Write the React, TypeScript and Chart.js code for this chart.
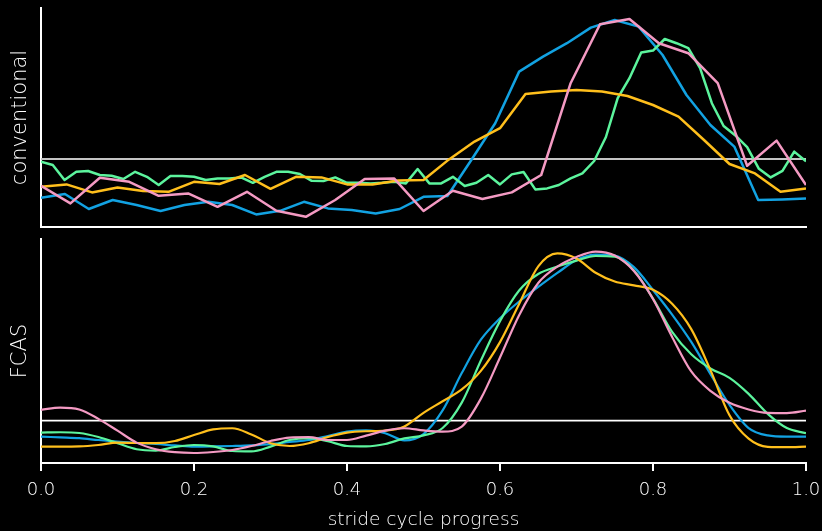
import React, { useEffect, useRef } from "react";
import { Chart, registerables } from "chart.js";

Chart.register(...registerables);

// ---------- data ----------
const seriesLabels = ["subject A", "subject B", "subject C", "subject D"];
const seriesColors = ["#12a2e2", "#5cf49d", "#ffbf1c", "#f49ac3"];

// conventional (raw samples, each series has its own sample count across the stride)
const convBlue = [-1.94, -1.75, -2.5, -2.05, -2.3, -2.6, -2.3, -2.14, -2.3, -2.77, -2.59, -2.14, -2.47, -2.55, -2.72, -2.5, -1.89, -1.85, -0.05, 1.79, 4.37, 5.12, 5.79, 6.57, 6.95, 6.62, 5.2, 3.2, 1.7, 0.62, -2.05, -2.02, -1.97];
const convGreen = [-0.14, -0.3, -1.05, -0.64, -0.6, -0.8, -0.84, -1.0, -0.64, -0.89, -1.3, -0.85, -0.85, -0.89, -1.05, -0.97, -0.97, -0.92, -1.19, -0.89, -0.64, -0.64, -0.75, -1.09, -1.1, -0.92, -1.19, -1.19, -1.22, -1.19, -1.14, -1.22, -0.5, -1.22, -1.22, -0.89, -1.35, -1.19, -0.8, -1.27, -0.77, -0.65, -1.52, -1.47, -1.3, -0.97, -0.72, -0.1, 1.1, 3.04, 4.04, 5.32, 5.42, 6.0, 5.79, 5.54, 4.54, 2.79, 1.65, 1.18, 0.59, -0.49, -0.92, -0.59, 0.37, -0.12];
const convYellow = [-1.39, -1.27, -1.67, -1.42, -1.6, -1.64, -1.14, -1.25, -0.8, -1.49, -0.89, -0.92, -1.27, -1.27, -1.07, -1.05, -0.02, 0.87, 1.54, 3.25, 3.37, 3.45, 3.37, 3.15, 2.7, 2.12, 0.95, -0.25, -0.72, -1.64, -1.47];
const convPink = [-1.34, -2.22, -0.94, -1.14, -1.84, -1.72, -2.39, -1.64, -2.59, -2.89, -2.05, -1.0, -0.97, -2.6, -1.59, -2.0, -1.67, -0.8, 3.79, 6.74, 7.0, 5.79, 5.29, 3.79, -0.34, 0.92, -1.3];

// FCAS (smoothed, sampled every 0.025 of the stride)
const fcasBlue = [-0.8, -0.84, -0.88, -0.97, -1.05, -1.12, -1.17, -1.24, -1.3, -1.29, -1.27, -1.24, -1.18, -1.07, -0.97, -0.77, -0.55, -0.49, -0.63, -0.99, -0.67, 0.51, 2.38, 4.05, 5.12, 5.96, 6.69, 7.39, 8.04, 8.31, 8.26, 7.68, 6.54, 5.31, 3.94, 2.34, 0.79, -0.37, -0.74, -0.8, -0.8];
const fcasGreen = [-0.6, -0.58, -0.62, -0.82, -1.13, -1.43, -1.5, -1.32, -1.22, -1.29, -1.52, -1.54, -1.3, -0.97, -0.88, -1.03, -1.27, -1.29, -1.17, -0.89, -0.74, -0.37, 0.9, 3.01, 4.98, 6.51, 7.34, 7.71, 8.01, 8.24, 8.21, 7.52, 6.11, 4.44, 3.32, 2.61, 2.14, 1.34, 0.34, -0.37, -0.63];
const fcasYellow = [-1.3, -1.3, -1.29, -1.22, -1.1, -1.12, -1.13, -1.02, -0.72, -0.44, -0.38, -0.69, -1.13, -1.27, -1.13, -0.82, -0.6, -0.53, -0.5, -0.29, 0.39, 0.97, 1.56, 2.49, 3.93, 5.84, 7.72, 8.37, 8.11, 7.4, 6.96, 6.77, 6.55, 5.85, 4.58, 2.54, 0.27, -0.9, -1.31, -1.33, -1.3];
const fcasPink = [0.54, 0.65, 0.56, 0.09, -0.5, -1.1, -1.43, -1.58, -1.62, -1.57, -1.47, -1.27, -1.02, -0.85, -0.83, -0.97, -0.97, -0.75, -0.5, -0.38, -0.49, -0.55, -0.3, 1.1, 3.16, 5.28, 6.89, 7.71, 8.19, 8.46, 8.26, 7.49, 6.09, 4.19, 2.46, 1.49, 0.89, 0.56, 0.39, 0.38, 0.5];

const baselineValue = 0;
const xTickStep = 0.2;
const panelLabels = ["conventional", "FCAS"];
const xTitle = "stride cycle progress";

// ---------- helpers ----------
const FONT = "'DejaVu Sans', sans-serif";
const TEXT = "#ffffff";
const WEIGHT = 200;

function toPoints(vals: number[]) {
  const n = vals.length - 1;
  return vals.map((v, i) => ({ x: i / n, y: v }));
}

function makeDatasets(series: number[][], width: number, smooth: boolean, baseColor: string, baseWidth: number) {
  const drawOrder = [4, 3, 2, 1];
  const ds: any[] = series.map((vals, i) => ({
    label: seriesLabels[i],
    data: toPoints(vals),
    borderColor: seriesColors[i],
    backgroundColor: seriesColors[i],
    borderWidth: width,
    pointRadius: 0,
    fill: false,
    tension: 0,
    cubicInterpolationMode: smooth ? "monotone" : "default",
    borderJoinStyle: "round",
    order: drawOrder[i],
  }));
  ds.push({
    label: "baseline",
    data: [
      { x: 0, y: baselineValue },
      { x: 1, y: baselineValue },
    ],
    borderColor: baseColor,
    borderWidth: baseWidth,
    pointRadius: 0,
    fill: false,
    order: 10,
  });
  return ds;
}

export default function App() {
  const topRef = useRef<HTMLCanvasElement | null>(null);
  const botRef = useRef<HTMLCanvasElement | null>(null);

  useEffect(() => {
    document.body.style.margin = "0";
    document.body.style.background = "#000";

    const top = new Chart(topRef.current as HTMLCanvasElement, {
      type: "line",
      data: {
        datasets: makeDatasets([convBlue, convGreen, convYellow, convPink], 2.5, false, "#c4c4c4", 1.8),
      },
      options: {
        animation: false,
        responsive: false,
        maintainAspectRatio: false,
        layout: { padding: { top: 8, right: 16, bottom: 0, left: 0 } },
        plugins: { legend: { display: false }, tooltip: { enabled: false } },
        scales: {
          x: {
            type: "linear",
            min: 0,
            max: 1,
            ticks: { display: false },
            grid: { display: false },
            border: { display: true, color: "#ffffff", width: 2 },
            afterFit: (s: any) => {
              s.height = 4;
              s.paddingLeft = 0;
              s.paddingRight = 0;
            },
          },
          y: {
            min: -3.4,
            max: 7.55,
            ticks: { display: false },
            grid: { display: false },
            border: { display: true, color: "#ffffff", width: 2 },
            title: {
              display: true,
              text: panelLabels[0],
              color: TEXT,
              font: { family: FONT, size: 21, weight: WEIGHT },
              padding: { top: 8, bottom: 0 },
            },
            afterFit: (s: any) => {
              s.width = 41;
            },
          },
        },
      } as any,
    });

    const bot = new Chart(botRef.current as HTMLCanvasElement, {
      type: "line",
      data: {
        datasets: makeDatasets([fcasBlue, fcasGreen, fcasYellow, fcasPink], 2.2, true, "#ffffff", 1.6),
      },
      options: {
        animation: false,
        responsive: false,
        maintainAspectRatio: false,
        layout: { padding: { top: 8, right: 16, bottom: 0, left: 0 } },
        plugins: { legend: { display: false }, tooltip: { enabled: false } },
        scales: {
          x: {
            type: "linear",
            min: 0,
            max: 1,
            ticks: {
              stepSize: xTickStep,
              autoSkip: false,
              maxRotation: 0,
              color: TEXT,
              padding: 9,
              font: { family: FONT, size: 18, weight: WEIGHT },
              callback: (v: any) => Number(v).toFixed(1),
            },
            grid: {
              display: true,
              drawOnChartArea: false,
              drawTicks: true,
              tickLength: 8,
              color: "#ffffff",
              lineWidth: 2,
            },
            border: { display: true, color: "#ffffff", width: 2 },
            title: {
              display: true,
              text: xTitle,
              color: TEXT,
              font: { family: FONT, size: 18.5, weight: WEIGHT },
              padding: { top: 0, bottom: 0 },
            },
            afterFit: (s: any) => {
              s.height = 68;
              s.paddingLeft = 0;
              s.paddingRight = 0;
            },
          },
          y: {
            min: -2.12,
            max: 9.09,
            ticks: { display: false },
            grid: { display: false },
            border: { display: true, color: "#ffffff", width: 2 },
            title: {
              display: true,
              text: panelLabels[1],
              color: TEXT,
              font: { family: FONT, size: 21, weight: WEIGHT },
              padding: { top: 8, bottom: 0 },
            },
            afterFit: (s: any) => {
              s.width = 41;
            },
          },
        },
      } as any,
    });

    return () => {
      top.destroy();
      bot.destroy();
    };
  }, []);

  return (
    <div style={{ position: "fixed", left: 0, top: 0, width: 822, height: 531, background: "#000", overflow: "hidden" }}>
      <canvas ref={topRef} width={822} height={231} style={{ position: "absolute", left: 0, top: 0, width: 822, height: 231 }} />
      <canvas ref={botRef} width={822} height={300} style={{ position: "absolute", left: 0, top: 231, width: 822, height: 300 }} />
    </div>
  );
}
